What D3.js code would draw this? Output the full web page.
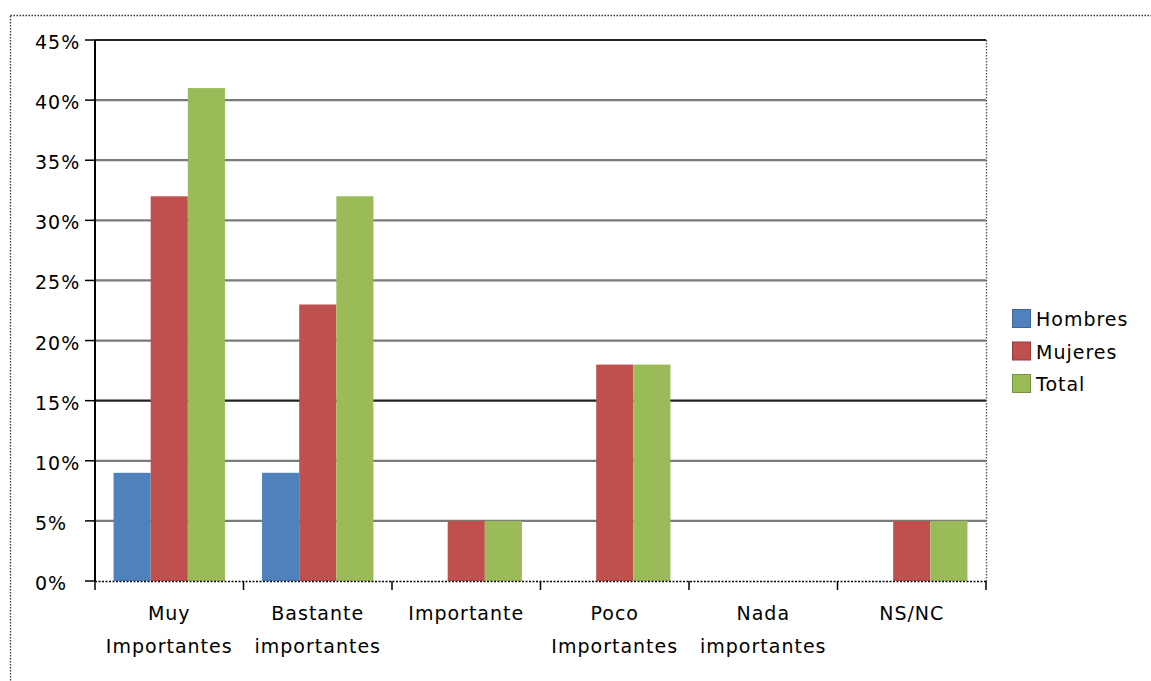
<!DOCTYPE html>
<html>
<head>
<meta charset="utf-8">
<script src="https://cdn.jsdelivr.net/npm/d3@7"></script>
<style>
  html, body { margin: 0; padding: 0; background: #fff; }
  svg text { font-family: "DejaVu Sans", sans-serif; fill: #000; letter-spacing: 1px; }
</style>
</head>
<body>
<svg id="chart" width="1151" height="681"></svg>
<script>
// Categories (two-line labels) and series values in percent
const categories = [
  ["Muy", "Importantes"],
  ["Bastante", "importantes"],
  ["Importante"],
  ["Poco", "Importantes"],
  ["Nada", "importantes"],
  ["NS/NC"]
];
const seriesNames = ["Hombres", "Mujeres", "Total"];
const hombres = [9, 9, 0, 0, 0, 0];
const mujeres = [32, 23, 5, 18, 0, 5];
const total   = [41, 32, 5, 18, 0, 5];
const yTicks  = [0, 5, 10, 15, 20, 25, 30, 35, 40, 45];
const colors  = ["#4F81BD", "#C0504D", "#9BBB59"];
const strokes = ["#3a6596", "#963c3a", "#77933c"];

const series = [hombres, mujeres, total];

const svg = d3.select("#chart");
const plot = { left: 95, right: 986, top: 40, bottom: 581 };

// Outer chart-area frame (dotted)
svg.append("rect")
  .attr("x", 10.5).attr("y", 15.5)
  .attr("width", 1200).attr("height", 700)
  .attr("fill", "none")
  .attr("stroke", "#333")
  .attr("stroke-width", 1.3)
  .attr("stroke-dasharray", "1.5,1.5");

const x0 = d3.scaleBand()
  .domain(d3.range(categories.length))
  .range([plot.left, plot.right])
  .paddingInner(0.25)
  .paddingOuter(0.125);

const x1 = d3.scaleBand()
  .domain(d3.range(seriesNames.length))
  .range([0, x0.bandwidth()]);

const y = d3.scaleLinear()
  .domain([0, 45])
  .range([plot.bottom, plot.top]);

// Right edge of plot area (dotted)
svg.append("line")
  .attr("x1", plot.right + 0.5).attr("x2", plot.right + 0.5)
  .attr("y1", plot.top).attr("y2", plot.bottom)
  .attr("stroke", "#555")
  .attr("stroke-width", 1.3)
  .attr("stroke-dasharray", "1.5,1.5");

// Horizontal gridlines
svg.append("g")
  .selectAll("line")
  .data(yTicks.filter(d => d > 0))
  .join("line")
  .attr("x1", plot.left).attr("x2", plot.right)
  .attr("y1", d => y(d)).attr("y2", d => y(d))
  .attr("stroke", d => (d === 45 || d === 15) ? "#222" : "#7a7a7a")
  .attr("stroke-width", 2.2);

// Bars
const groups = svg.append("g")
  .selectAll("g")
  .data(categories.map((c, i) => i))
  .join("g")
  .attr("transform", i => `translate(${x0(i)},0)`);

groups.selectAll("rect")
  .data(i => series.map((s, k) => ({ k, v: s[i] })))
  .join("rect")
  .attr("x", d => x1(d.k))
  .attr("width", x1.bandwidth())
  .attr("y", d => y(d.v))
  .attr("height", d => y(0) - y(d.v))
  .attr("fill", d => colors[d.k]);

// Y axis line and ticks
svg.append("line")
  .attr("x1", plot.left).attr("x2", plot.left)
  .attr("y1", plot.top).attr("y2", plot.bottom + 1)
  .attr("stroke", "#000").attr("stroke-width", 2);

svg.append("g")
  .selectAll("line")
  .data(yTicks)
  .join("line")
  .attr("x1", plot.left - 10).attr("x2", plot.left)
  .attr("y1", d => y(d)).attr("y2", d => y(d))
  .attr("stroke", "#000").attr("stroke-width", 1.5);

svg.append("g")
  .selectAll("text")
  .data(yTicks)
  .join("text")
  .attr("x", 35)
  .attr("y", d => y(d) + 9)
  .attr("font-size", 19)
  .text(d => d + "%");

// X axis (dotted baseline with boundary ticks)
svg.append("line")
  .attr("x1", plot.left).attr("x2", plot.right)
  .attr("y1", plot.bottom + 0.5).attr("y2", plot.bottom + 0.5)
  .attr("stroke", "#000")
  .attr("stroke-width", 1.3)
  .attr("stroke-dasharray", "2,1.5");

svg.append("g")
  .selectAll("line")
  .data(d3.range(categories.length + 1))
  .join("line")
  .attr("x1", i => plot.left + i * x0.step())
  .attr("x2", i => plot.left + i * x0.step())
  .attr("y1", plot.bottom).attr("y2", plot.bottom + 9)
  .attr("stroke", "#000").attr("stroke-width", 1.5);

// Category labels
const labels = svg.append("g")
  .selectAll("text")
  .data(categories.map((c, i) => ({ c, i })))
  .join("text")
  .attr("text-anchor", "middle")
  .attr("font-size", 19)
  .attr("x", d => x0(d.i) + x0.bandwidth() / 2)
  .attr("y", 620);

labels.selectAll("tspan")
  .data(d => d.c.map((t, j) => ({ t, j, x: x0(d.i) + x0.bandwidth() / 2 })))
  .join("tspan")
  .attr("x", d => d.x)
  .attr("dy", d => d.j === 0 ? 0 : 33)
  .text(d => d.t);

// Legend
const legend = svg.append("g")
  .selectAll("g")
  .data(seriesNames)
  .join("g")
  .attr("transform", (d, i) => `translate(1012, ${309 + i * 32.5})`);

legend.append("rect")
  .attr("x", 0.5).attr("y", 0.5)
  .attr("width", 18).attr("height", 18)
  .attr("fill", (d, i) => colors[i])
  .attr("stroke", (d, i) => strokes[i])
  .attr("stroke-width", 1);

legend.append("text")
  .attr("x", 24)
  .attr("y", 17)
  .attr("font-size", 19)
  .text(d => d);
</script>
</body>
</html>
